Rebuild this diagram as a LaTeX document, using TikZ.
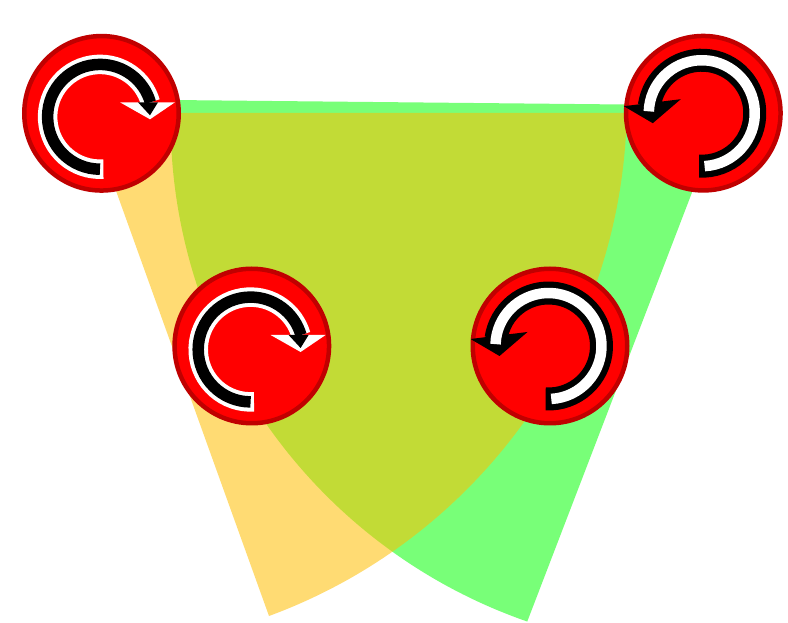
\documentclass[tikz,border=0pt]{standalone}
\usepackage{tikz}
\definecolor{WakeOrange}{HTML}{FFBE00}
\definecolor{WakeGreen}{HTML}{00FF00}
\definecolor{RotorRed}{HTML}{FF0000}
\definecolor{RotorRim}{HTML}{C00000}
\tikzset{
  wakeleft/.style={fill=WakeOrange,fill opacity=.55},
  wakeright/.style={fill=WakeGreen,fill opacity=.53},
  rotor/.style={circle,draw=RotorRim,line width=4.5pt,fill=RotorRed,minimum size=154.5pt,inner sep=0pt},
  spincw/.pic={
    \draw[white,line width=19.5pt] (-86.3:52.4) arc[start angle=-86.3,end angle=-344,radius=52.4];
    \fill[white] (20,14.5)--(75,14.5)--(50,-2.5)--cycle;
    \draw[black,line width=11.5pt] (-90:52.4) arc[start angle=-90,end angle=-344,radius=52.4];
    \fill[black] (38,14.5)--(58,14.5)--(50,1.5)--cycle;
  },
  spinccw/.pic={
    \draw[black,line width=23pt] (-93:53) arc[start angle=-93,end angle=172,radius=53];
    \fill[black] (-78,7)--(-21,14)--(-49,-10)--cycle;
    \draw[white,line width=10.5pt] (-87:53) arc[start angle=-87,end angle=178,radius=53];
  },
}
\begin{document}
\begin{tikzpicture}[x=1pt,y=1pt]
    \useasboundingbox (0,0) rectangle (788,622);
    % wakes
    \fill[wakeright] (725.4,516.5) -- (171,522)
      arc[start angle=177.84,end angle=250.83,radius=531] -- cycle;
    \fill[wakeleft] (88,509) -- (269,6)
      arc[start angle=-69.77,end angle=-1.05,radius=547] -- cycle;

    % rotors
    \node[rotor] (rotornw) at (101.5,508.7) {};
    \node[rotor] (rotorne) at (703.3,508.8) {};
    \node[rotor] (rotorsw) at (251.8,276) {};
    \node[rotor] (rotorse) at (550,276) {};

    \pic at ([shift={(-1.5,-3.5)}]rotornw.center) {spincw};
    \pic at ([shift={(-1.2,-3.5)}]rotorsw.center) {spincw};
    \pic at ([shift={(-1.5,0)}]rotorne.center) {spinccw};
    \pic at ([shift={(-1.5,0)}]rotorse.center) {spinccw};
  \end{tikzpicture}
\end{document}
